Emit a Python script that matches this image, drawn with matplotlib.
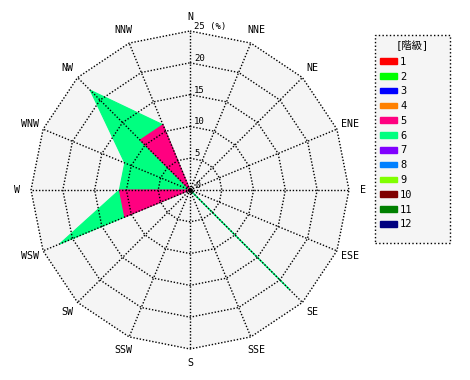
import numpy as np
import matplotlib
matplotlib.use("Agg")
import matplotlib.pyplot as plt
from matplotlib.patches import Patch, Rectangle

plt.rcParams['font.family'] = ['DejaVu Sans Mono', 'Noto Sans CJK JP']

# 16 directions, clockwise from north
directions = ["N", "NNE", "NE", "ENE", "E", "ESE", "SE", "SSE",
              "S", "SSW", "SW", "WSW", "W", "WNW", "NW", "NNW"]

# frequency (%) per class; classes without data are all zero
class5 = [0, 0, 0, 0, 0, 0, 0, 0, 0, 0, 0, 11.1, 11.1, 0, 11.1, 11.1]
class6 = [0, 0, 0, 0, 0, 0, 22.2, 0, 0, 0, 0, 11.1, 0, 11.1, 11.1, 0]
zeros = [0] * 16
classes = [zeros, zeros, zeros, zeros, class5, class6,
           zeros, zeros, zeros, zeros, zeros, zeros]
class_labels = ["1", "2", "3", "4", "5", "6", "7", "8", "9", "10", "11", "12"]
class_colors = ["#ff0000", "#00ff00", "#0000ff", "#ff8000", "#ff0080", "#00ff80",
                "#8000ff", "#0080ff", "#80ff00", "#800000", "#008000", "#000080"]
rings = [5, 10, 15, 20, 25]
ring_labels = ["5", "10", "15", "20", "25 (%)"]

theta = np.deg2rad(np.arange(16) * 22.5)


def to_xy(r):
    r = np.asarray(r, dtype=float)
    return r * np.sin(theta), r * np.cos(theta)


fig = plt.figure(figsize=(4.7, 3.8), dpi=100)
lim = 29
R = lim * 159 / 25
ax = fig.add_axes([(190 - R) / 470, (190 - R) / 380, 2 * R / 470, 2 * R / 380])
ax.set_xlim(-lim, lim)
ax.set_ylim(-lim, lim)
ax.set_aspect('equal')
ax.axis('off')

# background of the outer polygon
bx, by = to_xy([25] * 16)
ax.fill(bx, by, color="#f5f5f5", zorder=0, lw=0)

# stacked classes: draw largest cumulative first
cum = np.cumsum(np.array(classes), axis=0)
for k in range(len(classes) - 1, -1, -1):
    if not any(classes[k]):
        continue
    x, y = to_xy(cum[k])
    ax.fill(x, y, facecolor=class_colors[k], edgecolor=class_colors[k],
            lw=0.8, zorder=1)

# dotted grid
dot = (0, (1, 1.3))
for r in rings:
    x, y = to_xy([r] * 16)
    ax.plot(np.append(x, x[0]), np.append(y, y[0]), color="black",
            lw=1, linestyle=dot, zorder=2)
ox, oy = to_xy([25] * 16)
for i in range(16):
    ax.plot([0, ox[i]], [0, oy[i]], color="black", lw=1, linestyle=dot, zorder=2)
ax.plot([0], [0], 'o', color="black", ms=2.5, zorder=3)

# ring labels
ax.annotate("0", (0, 0), xytext=(4, 0), textcoords="offset points",
            fontsize=6, va="bottom", ha="left")
for r, lab in zip(rings, ring_labels):
    ax.annotate(lab, (0, r), xytext=(3, 0), textcoords="offset points",
                fontsize=6.5, va="bottom", ha="left")

# direction labels
lx, ly = to_xy([27.2] * 16)
for i, d in enumerate(directions):
    ax.text(lx[i], ly[i], d, fontsize=7.2, ha="center", va="center")

# legend box
fig.patches.append(Rectangle((375 / 470, 1 - 243 / 380), 75 / 470, 208 / 380,
                             transform=fig.transFigure, facecolor="#f5f5f5",
                             edgecolor="black", linestyle=":", lw=1, zorder=0))
fig.text(412.5 / 470, 1 - 45 / 380, "[階級]", fontsize=7.5, ha="center", va="center")
handles = [Patch(facecolor=c, edgecolor=c) for c in class_colors]
leg = fig.legend(handles, class_labels, loc="upper left",
                 bbox_to_anchor=(375 / 470, 1 - 51.5 / 380), borderaxespad=0,
                 fontsize=7.5, frameon=False,
                 handlelength=1.6, handleheight=0.45, handletextpad=0.3,
                 labelspacing=0.46, borderpad=0.5)

fig.savefig("out.png", dpi=100)
